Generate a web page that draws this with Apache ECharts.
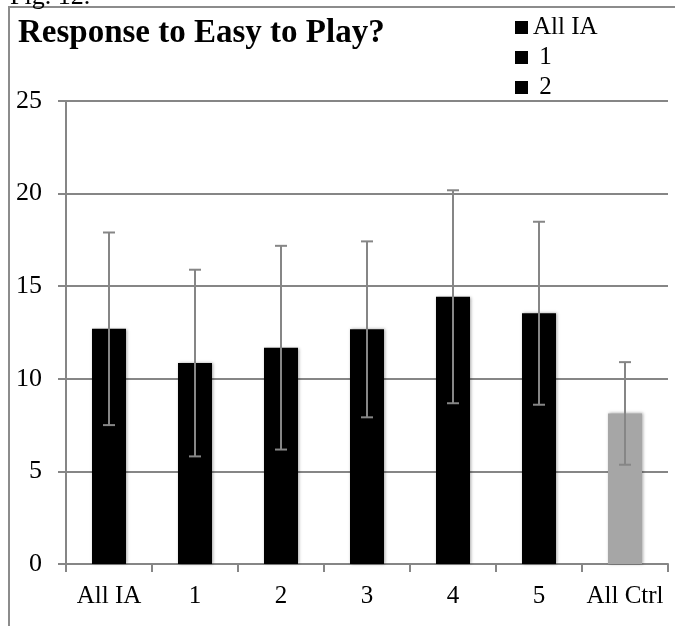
<!DOCTYPE html>
<html>
<head>
<meta charset="utf-8">
<script src="https://cdn.jsdelivr.net/npm/echarts@6/dist/echarts.min.js"></script>
<style>
html,body{margin:0;padding:0;background:#fff;}
#chart{width:675px;height:626px;}
</style>
</head>
<body>
<div id="chart"></div>
<script>
var categories = ['All IA', '1', '2', '3', '4', '5', 'All Ctrl'];
var means = [12.7, 10.85, 11.68, 12.67, 14.43, 13.54, 8.13];
var errors = [5.2, 5.04, 5.5, 4.75, 5.75, 4.94, 2.77];
var barColors = ['#000000', '#000000', '#000000', '#000000', '#000000', '#000000', '#a6a6a6'];
var legendLabels = ['All IA', ' 1', ' 2'];
var yTicks = [0, 5, 10, 15, 20, 25];

var FONT = '"Liberation Serif", "DejaVu Serif", serif';
var chart = echarts.init(document.getElementById('chart'));

var barData = means.map(function (v, i) {
  return { value: v, itemStyle: { color: barColors[i] } };
});
var errData = means.map(function (v, i) {
  return [i, v - errors[i], v + errors[i]];
});

var series = [
  {
    type: 'bar',
    name: 'values',
    data: barData,
    barWidth: 34,
    itemStyle: { shadowBlur: 3, shadowColor: 'rgba(0,0,0,0.35)', shadowOffsetX: 1, shadowOffsetY: 0 },
    silent: true,
    z: 2
  },
  {
    type: 'custom',
    name: 'err',
    data: errData,
    z: 3,
    silent: true,
    renderItem: function (params, api) {
      var x = api.value(0);
      var lo = api.coord([x, api.value(1)]);
      var hi = api.coord([x, api.value(2)]);
      var hw = 6;
      var st = { stroke: '#868686', lineWidth: 2 };
      return {
        type: 'group',
        children: [
          { type: 'line', shape: { x1: hi[0], y1: hi[1], x2: lo[0], y2: lo[1] }, style: st },
          { type: 'line', shape: { x1: hi[0] - hw, y1: hi[1], x2: hi[0] + hw, y2: hi[1] }, style: st },
          { type: 'line', shape: { x1: lo[0] - hw, y1: lo[1], x2: lo[0] + hw, y2: lo[1] }, style: st }
        ]
      };
    }
  }
];
legendLabels.forEach(function (name) {
  series.push({ type: 'line', name: name, data: [], itemStyle: { color: '#000' }, lineStyle: { color: '#000' } });
});

chart.setOption({
  animation: false,
  backgroundColor: '#fff',
  grid: { left: 66, right: 7, top: 101, bottom: 62, containLabel: false },
  legend: {
    data: legendLabels,
    orient: 'vertical',
    left: 515,
    top: 15,
    icon: 'rect',
    itemWidth: 13,
    itemHeight: 13,
    itemGap: 5,
    selectedMode: false,
    textStyle: { fontFamily: FONT, fontSize: 25, color: '#000' },
    padding: 0
  },
  xAxis: {
    type: 'category',
    data: categories,
    axisLine: { lineStyle: { color: '#868686', width: 2 } },
    axisTick: { show: true, length: 8, lineStyle: { color: '#868686', width: 2 } },
    axisLabel: { fontFamily: FONT, fontSize: 25, color: '#000', margin: 20, interval: 0 }
  },
  yAxis: {
    type: 'value',
    min: yTicks[0],
    max: yTicks[yTicks.length - 1],
    interval: 5,
    axisLine: { show: true, lineStyle: { color: '#868686', width: 2 } },
    axisTick: { show: true, length: 8, lineStyle: { color: '#868686', width: 2 } },
    splitLine: { show: true, lineStyle: { color: '#868686', width: 2 } },
    axisLabel: { fontFamily: FONT, fontSize: 26, color: '#000', margin: 24 }
  },
  graphic: [
    {
      type: 'rect',
      shape: { x: 9, y: 7, width: 720, height: 720 },
      style: { fill: 'none', stroke: '#8c8c8c', lineWidth: 2 },
      silent: true,
      z: -1
    },
    {
      type: 'text',
      x: 10,
      y: -3,
      style: { text: 'Fig. 12.', font: '26px ' + FONT, fill: '#000', verticalAlign: 'middle', align: 'left' },
      silent: true
    },
    {
      type: 'text',
      x: 18,
      y: 33,
      style: { text: 'Response to Easy to Play?', font: 'bold 33px ' + FONT, fill: '#000', verticalAlign: 'middle', align: 'left' },
      silent: true
    }
  ],
  series: series
});
</script>
</body>
</html>
